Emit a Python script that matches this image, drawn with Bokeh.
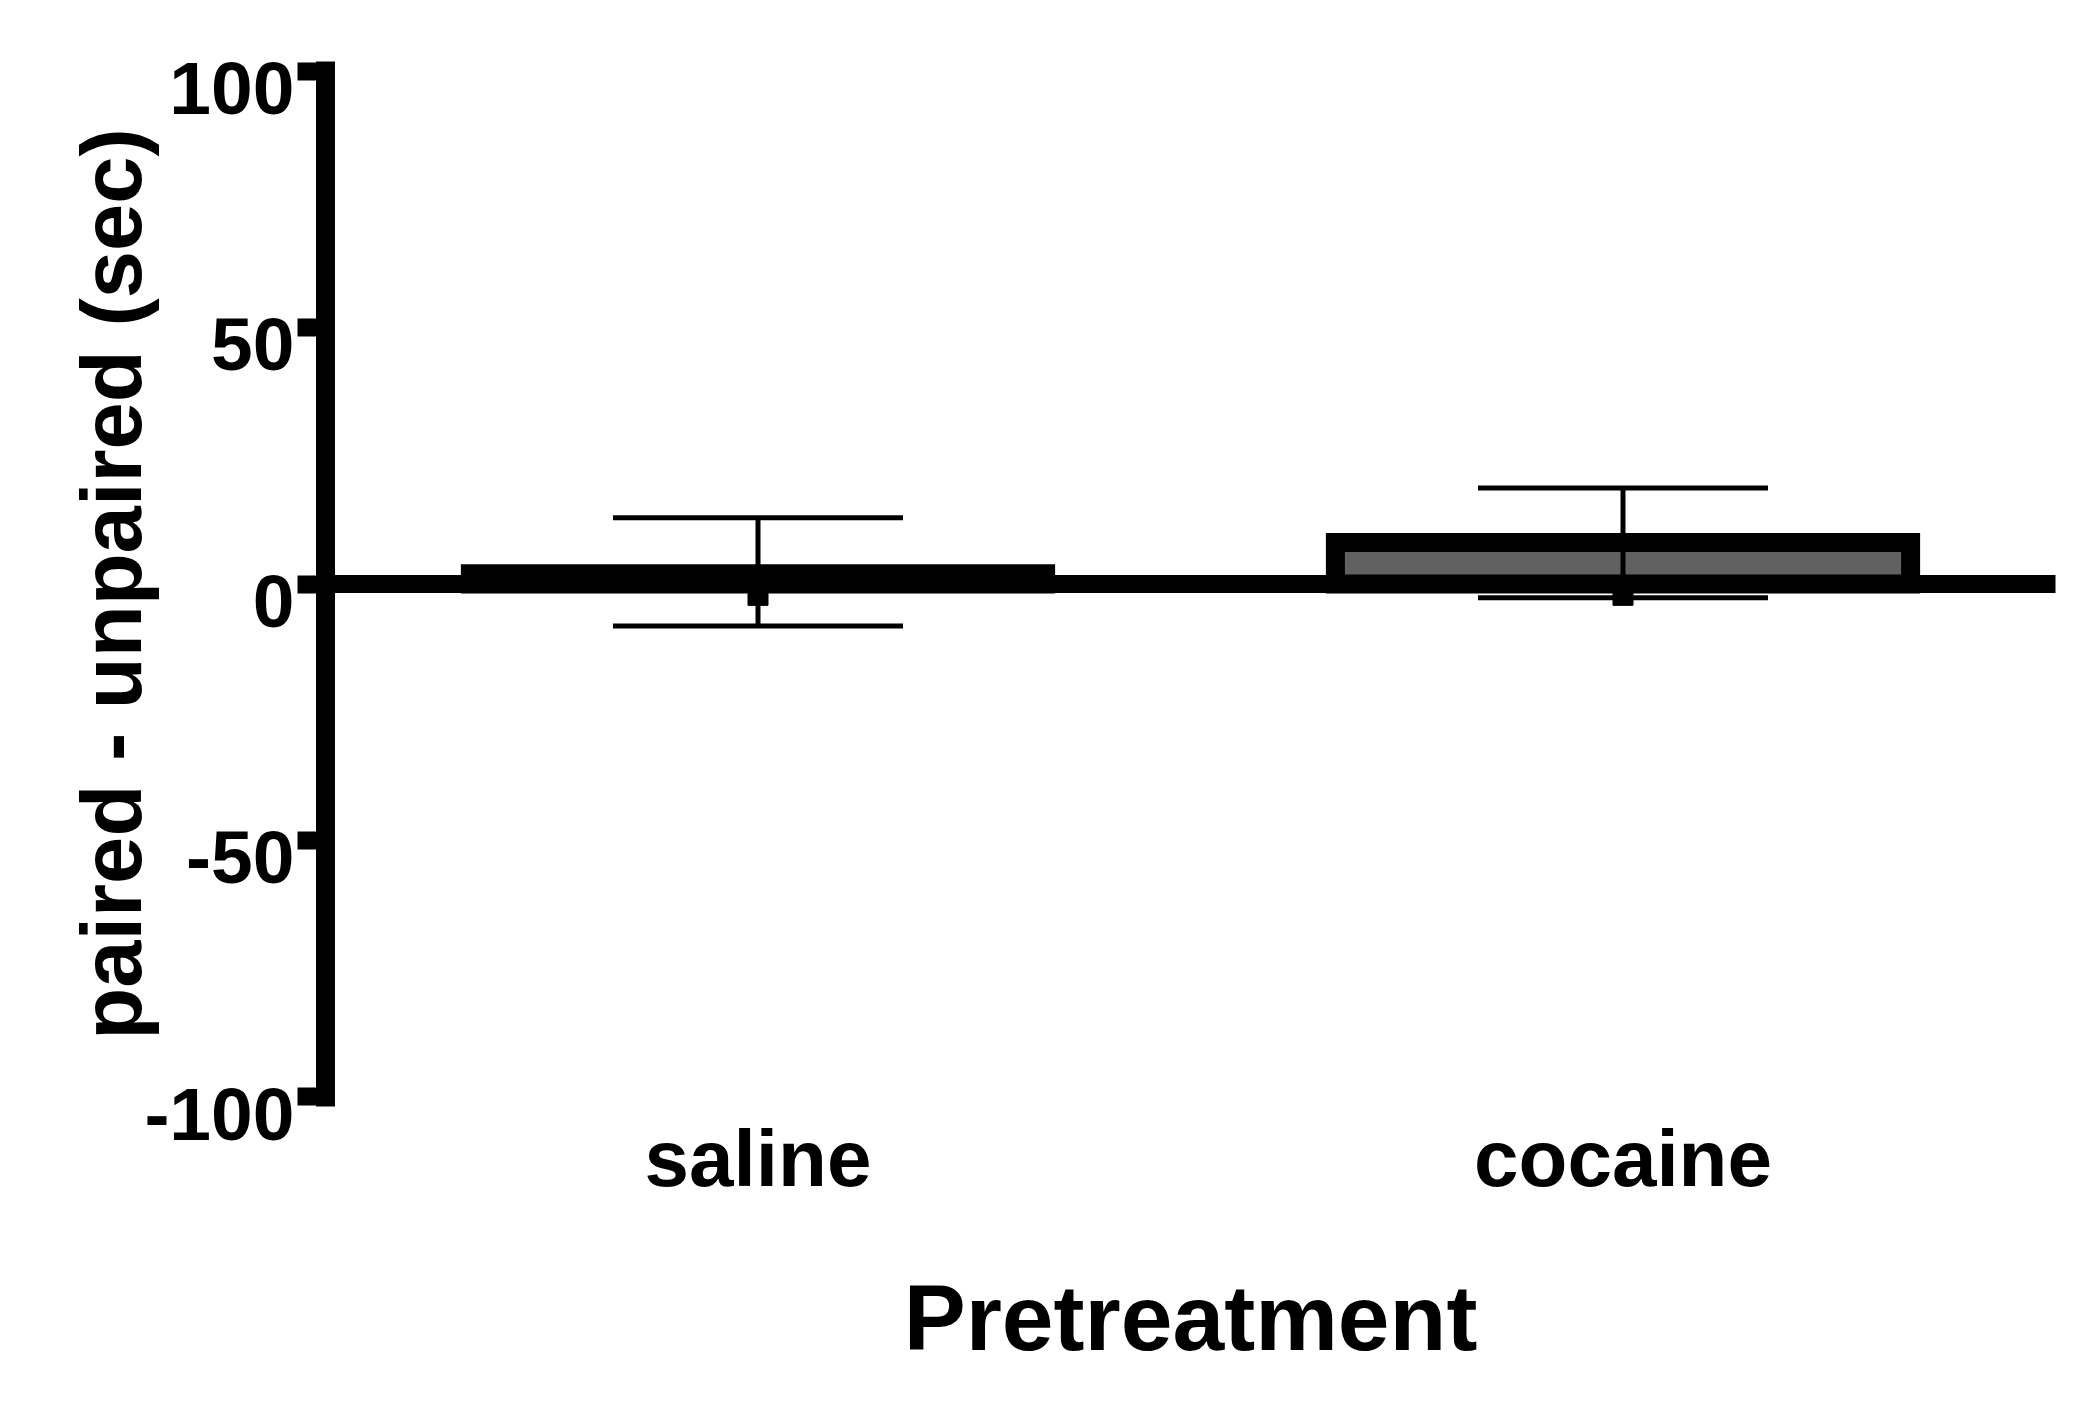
from bokeh.plotting import figure
from bokeh.models import (FactorRange, Range1d, LinearAxis, FixedTicker, Span,
                          Whisker, TeeHead, ColumnDataSource)
from bokeh.embed import file_html
from bokeh.resources import INLINE

# ---- data ----
categories = ["saline", "cocaine"]
means = [2.0, 8.1]
err_upper = [12.9, 18.7]
err_lower = [-8.2, -2.7]
notch_y = [-2.9, -2.9]
bar_fill = ["#000000", "#616161"]
y_ticks = [-100, -50, 0, 50, 100]
y_tick_labels = ["-100", "-50", "0", "50", "100"]
x_title = "Pretreatment"
y_title = "paired - unpaired (sec)"

FONT = "Liberation Sans"
Y0, Y1 = -105.0, 105.0
AXIS_LIM = 101.85
LABEL_SHIFT = 3.25

src = ColumnDataSource(dict(x=categories, top=means, upper=err_upper,
                            lower=err_lower, color=bar_fill, ny=notch_y))

# frame: left 325, width 1730; top such that y=101.85 sits where it did + 6px
p = figure(x_range=FactorRange(*categories), y_range=Range1d(Y0, Y1),
           width=2075, height=1400, output_backend="svg", toolbar_location=None,
           min_border_left=325, min_border_right=20, min_border_top=45,
           min_border_bottom=278)
p.outline_line_color = None
p.grid.visible = False
p.background_fill_color = "white"

p.vbar(x="x", top="top", bottom=0, width=0.665, fill_color="color",
       line_color="black", line_width=19, line_join="miter", source=src)

p.add_layout(Span(location=0, dimension="width", line_color="black",
                  line_width=18, line_cap="square"))

wh = Whisker(base="x", upper="upper", lower="lower", source=src,
             line_width=5, line_color="black", level="annotation",
             upper_head=TeeHead(size=290, line_width=5, line_color="black"),
             lower_head=TeeHead(size=290, line_width=5, line_color="black"))
p.add_layout(wh)

p.rect(x="x", y="ny", width=20, height=13, width_units="screen",
       height_units="screen", color="black", source=src)

# main y axis: line + ticks only
ya = p.yaxis[0]
ya.ticker = FixedTicker(ticks=y_ticks, minor_ticks=[])
ya.bounds = (-AXIS_LIM, AXIS_LIM)
ya.axis_line_width = 19
ya.axis_line_color = "black"
ya.major_tick_line_width = 18
ya.major_tick_line_color = "black"
ya.major_tick_out = 28
ya.major_tick_in = 0
ya.minor_tick_line_color = None
ya.major_label_overrides = {t: "" for t in y_ticks}
ya.major_label_standoff = 0

# label axis (labels sit slightly below tick marks as in the reference)
shifted = [t - LABEL_SHIFT for t in y_ticks]
la = LinearAxis(ticker=FixedTicker(ticks=shifted, minor_ticks=[]),
                bounds=(-103.25, Y1),
                axis_line_color=None, major_tick_line_color=None,
                minor_tick_line_color=None, major_tick_out=0, major_tick_in=0,
                major_label_overrides={s: lab for s, lab in zip(shifted, y_tick_labels)},
                major_label_text_font=FONT, major_label_text_font_style="bold",
                major_label_text_font_size="75px", major_label_text_color="black",
                major_label_standoff=3,
                axis_label=y_title, axis_label_text_font=FONT,
                axis_label_text_font_style="bold", axis_label_text_font_size="85px",
                axis_label_text_color="black", axis_label_standoff=-18)
p.add_layout(la, "left")

xa = p.xaxis[0]
xa.axis_line_color = None
xa.major_tick_line_color = None
xa.minor_tick_line_color = None
xa.major_tick_out = 0
xa.major_tick_in = 0
xa.major_label_text_font = FONT
xa.major_label_text_font_style = "bold"
xa.major_label_text_font_size = "80px"
xa.major_label_text_color = "black"
xa.major_label_standoff = -9
xa.axis_label = x_title
xa.axis_label_text_font = FONT
xa.axis_label_text_font_style = "bold"
xa.axis_label_text_font_size = "93px"
xa.axis_label_text_color = "black"
xa.axis_label_standoff = 60

open("out.html", "w").write(file_html(p, INLINE))
